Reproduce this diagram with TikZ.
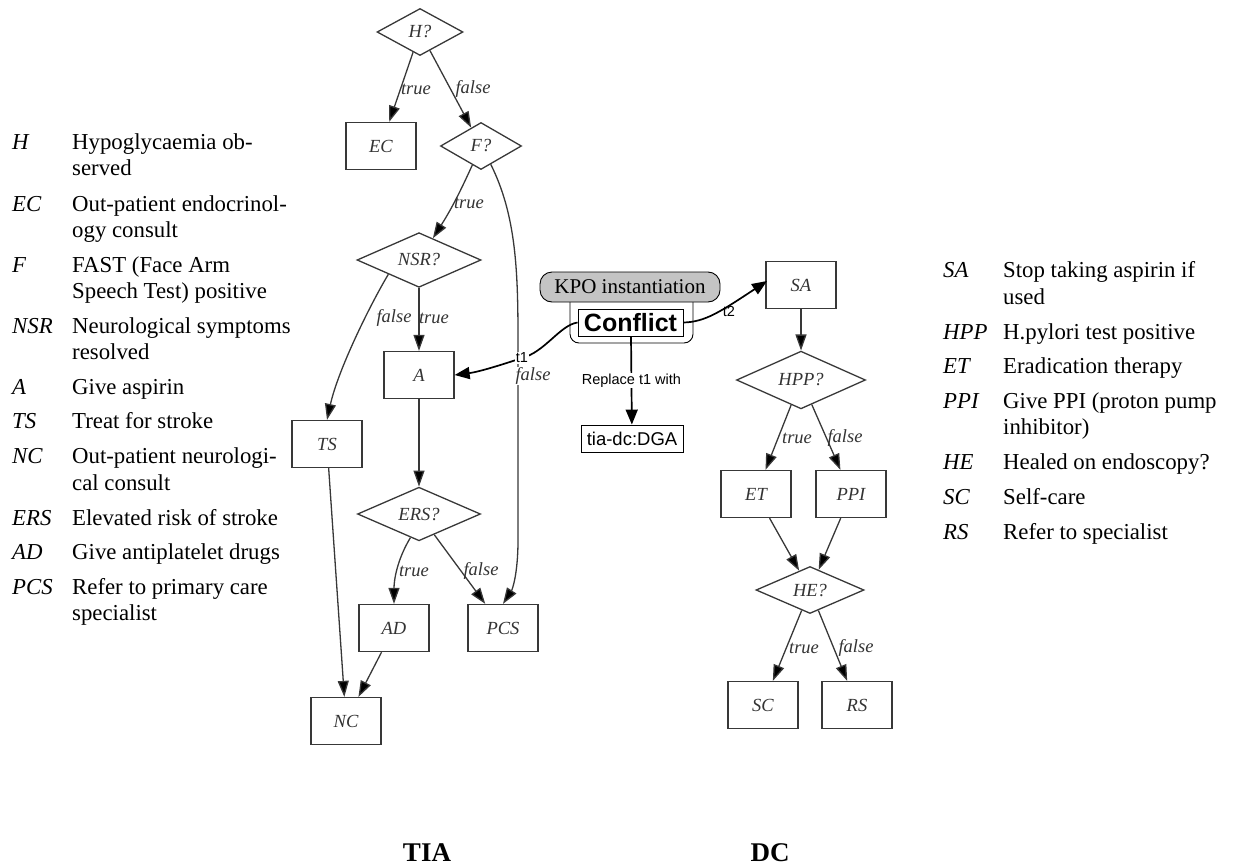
\documentclass[tikz,border=0pt]{standalone}
\usepackage{fontspec}
\setmainfont{Liberation Serif}
\newfontfamily\sansf{Liberation Sans}
\usetikzlibrary{shapes.geometric,arrows.meta,calc}
\definecolor{gline}{HTML}{383838}
\definecolor{gtext}{HTML}{333333}
\definecolor{kpogrey}{HTML}{C4C4C4}
\newcommand\graphfont{\fontsize{18.5}{21}\selectfont\itshape}
\newcommand\legfont{\fontsize{22.8}{26}\selectfont}
\begin{document}
\begin{tikzpicture}[x=1pt,y=-1pt,
  box/.style={rectangle,draw=gline,line width=1.3pt,minimum width=70pt,minimum height=47pt,
    inner sep=0pt,font=\graphfont,text=gtext},
  dec/.style={diamond,draw=gline,line width=1.3pt,minimum height=47pt,inner sep=0pt,
    font=\graphfont,text=gtext},
  flow/.style={draw=gline,line width=1.3pt,-{Triangle[length=16pt,width=11pt,fill=black]}},
  lab/.style={font=\graphfont,text=gtext,inner sep=1pt},
  kflow/.style={draw=black,line width=1.7pt,-{Triangle[length=15pt,width=12pt]}},
  klab/.style={font=\sansf\fontsize{14.5}{16}\selectfont,fill=white,inner sep=1pt},
  leg/.style={anchor=base west,font=\legfont,inner sep=0pt},
  abbr/.style={leg,font=\legfont\itshape},
  title/.style={font=\fontsize{27}{30}\bfseries,inner sep=0pt}]
\useasboundingbox (0,0) rectangle (1233,867);

% ---------- TIA guideline ----------
\node[dec,minimum width=86pt]  (H)   at (420,32)  {H?};
\node[box]                     (EC)  at (381,146) {EC};
\node[dec,minimum width=81pt]  (F)   at (481,146) {F?};
\node[dec,minimum width=124pt] (NSR) at (419,260) {NSR?};
\node[box]                     (A)   at (419,375) {A};
\node[box]                     (TS)  at (327,444) {TS};
\node[dec,minimum width=123pt] (ERS) at (419,514) {ERS?};
\node[box]                     (AD)  at (394,628) {AD};
\node[box]                     (PCS) at (503,628) {PCS};
\node[box]                     (NC)  at (346,721) {NC};

\draw[flow] (H) -- (EC);
\draw[flow] (H) -- (F);
\draw[flow] (F) to[bend left=4] (NSR);
\draw[flow] (F.-62) .. controls (516,215) and (518,270) .. (518,340)
  -- (518,540) .. controls (518,575) and (512,590) .. (PCS.north);
\draw[flow] (NSR) -- (A);
\draw[flow] (NSR.-155) .. controls (370,305) and (338,370) .. (TS.north);
\draw[flow] (A) -- (ERS);
\draw[flow] (ERS.-110) .. controls (397,560) and (394,580) .. (AD.north);
\draw[flow] (ERS) -- (PCS);
\draw[flow] (TS) -- (NC);
\draw[flow] (AD) -- (NC);

\node[lab] (lHt)   at (416,89)  {true};
\node[lab] (lHf)   at (473,89)  {false};
\node[lab] (lFt)   at (469,203) {true};
\node[lab,fill=white] (lFf) at (533,376) {false};
\node[lab] (lNf)   at (394,318) {false};
\node[lab] (lNt)   at (434,318) {true};
\node[lab] (lEt)   at (414,571) {true};
\node[lab] (lEf)   at (481,571) {false};

% ---------- DC guideline ----------
\node[box]                     (SA)  at (801,285) {SA};
\node[dec,minimum width=129pt] (HPP) at (801,380) {HPP?};
\node[box]                     (ET)  at (756,494) {ET};
\node[box]                     (PPI) at (851,494) {PPI};
\node[dec,minimum width=108pt] (HE)  at (810,590) {HE?};
\node[box]                     (SC)  at (763,705) {SC};
\node[box]                     (RS)  at (857,705) {RS};

\draw[flow] (SA) -- (HPP);
\draw[flow] (HPP) -- (ET);
\draw[flow] (HPP) -- (PPI);
\draw[flow] (ET) -- (HE);
\draw[flow] (PPI) -- (HE);
\draw[flow] (HE) -- (SC);
\draw[flow] (HE) -- (RS);

\node[lab] (lHPt) at (797,438) {true};
\node[lab] (lHPf) at (845,438) {false};
\node[lab] (lHEt) at (804,648) {true};
\node[lab] (lHEf) at (856,648) {false};

% ---------- KPO instantiation ----------
\node[draw=black,line width=0.9pt,rounded corners=9pt,fill=white,
      minimum width=123pt,minimum height=61pt] (outer) at (631.5,312.5) {};
\node[draw=black,line width=0.9pt,rounded corners=12pt,fill=kpogrey,
      minimum width=180pt,minimum height=30pt,inner sep=0pt,
      font=\fontsize{21}{23}\selectfont] (kpo) at (630,287) {KPO instantiation};
\node[draw=black,line width=0.9pt,fill=white,minimum width=105pt,minimum height=27pt,
      inner sep=0pt,font=\sansf\fontsize{25}{27}\bfseries] (C) at (630.5,322.5) {Conflict};
\node[draw=black,line width=0.9pt,fill=white,minimum width=102pt,minimum height=27pt,
      inner sep=0pt,font=\sansf\fontsize{18.5}{20}\selectfont] (DGA) at (632,438.5) {tia-dc:DGA};

\draw[kflow] (C.south -| 631,0) -- node[klab] (rep) {Replace t1 with} (DGA);
\draw[kflow] (C.west) .. controls (560,325) and (545,352) .. (522,358)
  .. controls (498,366) and (478,372) .. (A.east);
\node[klab] (t1) at (522,358) {t1};
\draw[kflow] (C.east) .. controls (705,322) and (720,312) .. (767,281);
\node[font=\sansf\fontsize{14.5}{16}\selectfont,inner sep=0pt] (t2) at (729,311) {t2};

% ---------- legends ----------
\node[abbr] (aH)   at (12,149) {H};   \node[leg] (dH1)   at (72,149) {Hypoglycaemia ob-};
                                      \node[leg] (dH2)   at (72,175) {served};
\node[abbr] (aEC)  at (12,211) {EC};  \node[leg] (dEC1)  at (72,211) {Out-patient endocrinol-};
                                      \node[leg] (dEC2)  at (72,237) {ogy consult};
\node[abbr] (aF)   at (12,272) {F};   \node[leg] (dF1)   at (72,272) {FAST (Face Arm};
                                      \node[leg] (dF2)   at (72,298) {Speech Test) positive};
\node[abbr] (aNSR) at (12,333) {NSR}; \node[leg] (dNSR1) at (72,333) {Neurological symptoms};
                                      \node[leg] (dNSR2) at (72,359) {resolved};
\node[abbr] (aA)   at (12,394) {A};   \node[leg] (dA)    at (72,394) {Give aspirin};
\node[abbr] (aTS)  at (12,428) {TS};  \node[leg] (dTS)   at (72,428) {Treat for stroke};
\node[abbr] (aNC)  at (12,463) {NC};  \node[leg] (dNC1)  at (72,463) {Out-patient neurologi-};
                                      \node[leg] (dNC2)  at (72,490) {cal consult};
\node[abbr] (aERS) at (12,525) {ERS}; \node[leg] (dERS)  at (72,525) {Elevated risk of stroke};
\node[abbr] (aAD)  at (12,559) {AD};  \node[leg] (dAD)   at (72,559) {Give antiplatelet drugs};
\node[abbr] (aPCS) at (12,594) {PCS}; \node[leg] (dPCS1) at (72,594) {Refer to primary care};
                                      \node[leg] (dPCS2) at (72,620) {specialist};

\node[abbr] (aSA)  at (943,277) {SA};  \node[leg] (dSA1)  at (1003,277) {Stop taking aspirin if};
                                       \node[leg] (dSA2)  at (1003,304) {used};
\node[abbr] (aHPP) at (943,339) {HPP}; \node[leg] (dHPP)  at (1003,339) {H.pylori test positive};
\node[abbr] (aET)  at (943,373) {ET};  \node[leg] (dET)   at (1003,373) {Eradication therapy};
\node[abbr] (aPPI) at (943,408) {PPI}; \node[leg] (dPPI1) at (1003,408) {Give PPI (proton pump};
                                       \node[leg] (dPPI2) at (1003,434) {inhibitor)};
\node[abbr] (aHE)  at (943,469) {HE};  \node[leg] (dHE)   at (1003,469) {Healed on endoscopy?};
\node[abbr] (aSC)  at (943,504) {SC};  \node[leg] (dSC)   at (1003,504) {Self-care};
\node[abbr] (aRS)  at (943,539) {RS};  \node[leg] (dRS)   at (1003,539) {Refer to specialist};

% ---------- captions ----------
\node[title] (tia) at (427,853) {TIA};
\node[title] (dc)  at (770,853) {DC};
\end{tikzpicture}
\end{document}
